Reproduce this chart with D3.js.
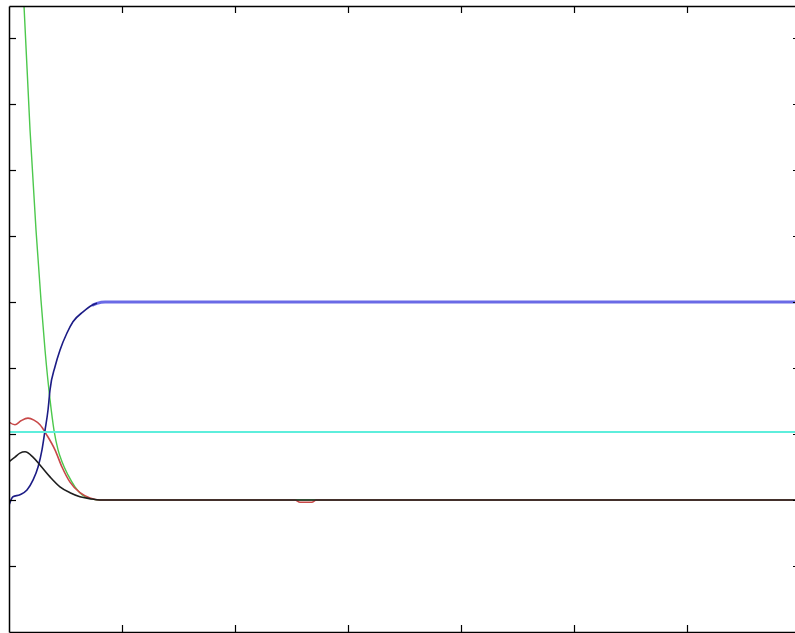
<!DOCTYPE html>
<html>
<head>
<meta charset="utf-8">
<script src="https://cdn.jsdelivr.net/npm/d3@7"></script>
<style>
  body { margin: 0; background: #fff; }
  svg { display: block; }
</style>
</head>
<body>
<div id="chart"></div>
<script>
const fullWidth = 795;
const fullHeight = 633;

// tick positions (no labels are shown in the figure)
const xTicks = [1, 2, 3, 4, 5, 6, 7];
const yTicks = [-1, 0, 1, 2, 3, 4, 5, 6, 7];

// series: [x, y]
const greenSeries = [[0.115, 8.03], [0.133, 7.48], [0.186, 5.61], [0.239, 4.09], [0.283, 3.03],
  [0.319, 2.27], [0.363, 1.52], [0.398, 1.06], [0.434, 0.76], [0.469, 0.58], [0.522, 0.38],
  [0.584, 0.20], [0.646, 0.08], [0.717, 0.02], [0.805, 0], [7, 0]];
const redSeries = [[0, 1.18], [0.053, 1.14], [0.106, 1.20], [0.168, 1.24], [0.221, 1.21],
  [0.274, 1.14], [0.336, 0.98], [0.407, 0.76], [0.469, 0.50], [0.540, 0.27], [0.628, 0.11],
  [0.717, 0.03], [0.805, 0], [2.53, 0], [2.575, -0.035], [2.68, -0.035], [2.72, 0], [7, 0]];
const blackSeries = [[0, 0.58], [0.053, 0.65], [0.097, 0.71], [0.142, 0.73], [0.212, 0.65],
  [0.274, 0.53], [0.363, 0.35], [0.451, 0.20], [0.540, 0.11], [0.628, 0.05], [0.717, 0.02],
  [0.805, 0], [7, 0]];
const blueRise = [[0, -0.08], [0.035, 0.05], [0.097, 0.08], [0.159, 0.15], [0.212, 0.30],
  [0.257, 0.50], [0.292, 0.76], [0.319, 1.06], [0.345, 1.36], [0.363, 1.67], [0.407, 2.02],
  [0.451, 2.27], [0.513, 2.53], [0.566, 2.70], [0.655, 2.85], [0.735, 2.95], [0.779, 2.98]];
const blueFlat = [[0.735, 2.95], [0.779, 2.98], [0.85, 3.0], [7, 3.0]];
const cyanSeries = [[0, 1.03], [7, 1.03]];

const xScale = d3.scaleLinear().domain([0, 7]).range([9, 800]);
const yScale = d3.scaleLinear().domain([-2, 7.485]).range([632, 6]);

const svg = d3.select('#chart')
              .append('svg')
              .attr('width', fullWidth)
              .attr('height', fullHeight);

svg.append('clipPath')
    .attr('id', 'plotclip')
  .append('rect')
    .attr('x', xScale(0))
    .attr('y', yScale(7.485))
    .attr('width', xScale(7) - xScale(0))
    .attr('height', yScale(-2) - yScale(7.485));

const line = d3.line()
                .x(d => xScale(d[0]))
                .y(d => yScale(d[1]))
                .curve(d3.curveMonotoneX);

const lines = svg.append('g').attr('clip-path', 'url(#plotclip)');

function drawLine(data, color, width) {
  lines.append('path')
      .datum(data)
      .attr('fill', 'none')
      .attr('stroke', color)
      .attr('stroke-width', width)
      .attr('stroke-linejoin', 'round')
      .attr('d', line);
}

drawLine(greenSeries, '#4cc84c', 1.4);
drawLine(redSeries, '#c84848', 1.6);
drawLine(blueFlat, '#6a6ae6', 3);
drawLine(blueRise, '#1c1c86', 1.6);
drawLine(cyanSeries, '#5eeedc', 2.2);
drawLine(blackSeries, '#1e1e1e', 1.6);

// axes with inward ticks, no labels
svg.append('g')
    .attr('transform', 'translate(0,' + yScale(-2) + ')')
    .call(d3.axisBottom(xScale).tickValues(xTicks).tickSizeInner(-7).tickSizeOuter(0).tickFormat(''));
svg.append('g')
    .attr('transform', 'translate(0,' + yScale(7.485) + ')')
    .call(d3.axisTop(xScale).tickValues(xTicks).tickSizeInner(-7).tickSizeOuter(0).tickFormat(''));
svg.append('g')
    .attr('transform', 'translate(' + xScale(0) + ',0)')
    .call(d3.axisLeft(yScale).tickValues(yTicks).tickSizeInner(-7).tickSizeOuter(0).tickFormat(''));
svg.append('g')
    .attr('transform', 'translate(' + xScale(7) + ',0)')
    .call(d3.axisRight(yScale).tickValues(yTicks).tickSizeInner(-7).tickSizeOuter(0).tickFormat(''));

svg.selectAll('.domain').attr('stroke', '#000').attr('stroke-width', 1.5);
svg.selectAll('.tick line').attr('stroke', '#000').attr('stroke-width', 1.2);
</script>
</body>
</html>
